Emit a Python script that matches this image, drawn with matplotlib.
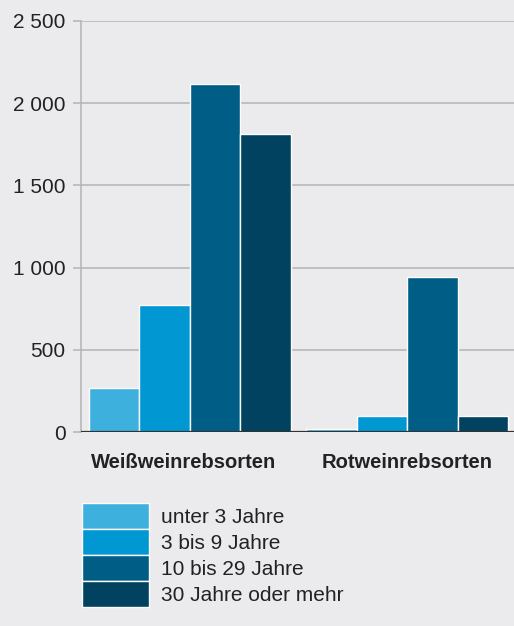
import numpy as np
import matplotlib

matplotlib.use("Agg")
import matplotlib.pyplot as plt
from matplotlib.ticker import FuncFormatter
from matplotlib.transforms import ScaledTranslation

groups = ["Weißweinrebsorten", "Rotweinrebsorten"]
age_classes = ["unter 3 Jahre", "3 bis 9 Jahre", "10 bis 29 Jahre", "30 Jahre oder mehr"]
values = {
    "unter 3 Jahre": [270, 20],
    "3 bis 9 Jahre": [770, 95],
    "10 bis 29 Jahre": [2115, 940],
    "30 Jahre oder mehr": [1815, 95],
}
colors = ["#3db0dd", "#0097d3", "#005e86", "#00425f"]
yticks = [0, 500, 1000, 1500, 2000, 2500]

plt.rcParams["font.family"] = ["Liberation Sans", "DejaVu Sans"]
bg = "#ebebed"
grid_c = "#b4b4b4"

fig = plt.figure(figsize=(5.14, 6.26), dpi=100, facecolor=bg)
ax = fig.add_axes([81 / 514, 1 - 432 / 626, 1 - 81 / 514, (432 - 21) / 626])
ax.set_facecolor(bg)

x = np.arange(len(groups))
w = 0.232
handles = []
for i, (name, c) in enumerate(zip(age_classes, colors)):
    offs = (i - 1.5) * w
    b = ax.bar(x + offs, values[name], width=w, color=c, edgecolor="white",
               linewidth=1, label=name, zorder=3)
    handles.append(b)

ax.set_xlim(-0.5, 1.49)
ax.set_ylim(0, 2500)
ax.set_yticks(yticks)
ax.yaxis.set_major_formatter(FuncFormatter(lambda v, p: f"{int(v):,}".replace(",", " ")))
ax.yaxis.grid(True, color=grid_c, linewidth=1.1, zorder=0)
ax.axhline(0, color="#333333", linewidth=1.6, zorder=4)

for s in ["top", "right", "bottom"]:
    ax.spines[s].set_visible(False)
ax.spines["left"].set_color(grid_c)
ax.spines["left"].set_linewidth(1.1)
ax.tick_params(axis="y", direction="out", length=6, width=1.1, color=grid_c,
               labelsize=15, labelcolor="#222222", pad=5)
ax.set_xticks(x)
ax.set_xticklabels(groups, fontsize=14.5, fontweight="bold", color="#222222")
ax.tick_params(axis="x", length=0, pad=15)

# first group label sits a bit left of the bar group centre in the original
lbl = ax.get_xticklabels()[0]
lbl.set_transform(lbl.get_transform() + ScaledTranslation(-4.5 / 72, 0, fig.dpi_scale_trans))

fig.legend(handles=handles, labels=age_classes, loc="upper left",
           bbox_to_anchor=(82 / 514, 1 - 503 / 626), frameon=False,
           fontsize=15, handlelength=3.2, handleheight=1.54, labelspacing=0.0,
           handletextpad=0.6, borderpad=0, borderaxespad=0, labelcolor="#222222")

fig.savefig("out.png", dpi=100, facecolor=bg)
